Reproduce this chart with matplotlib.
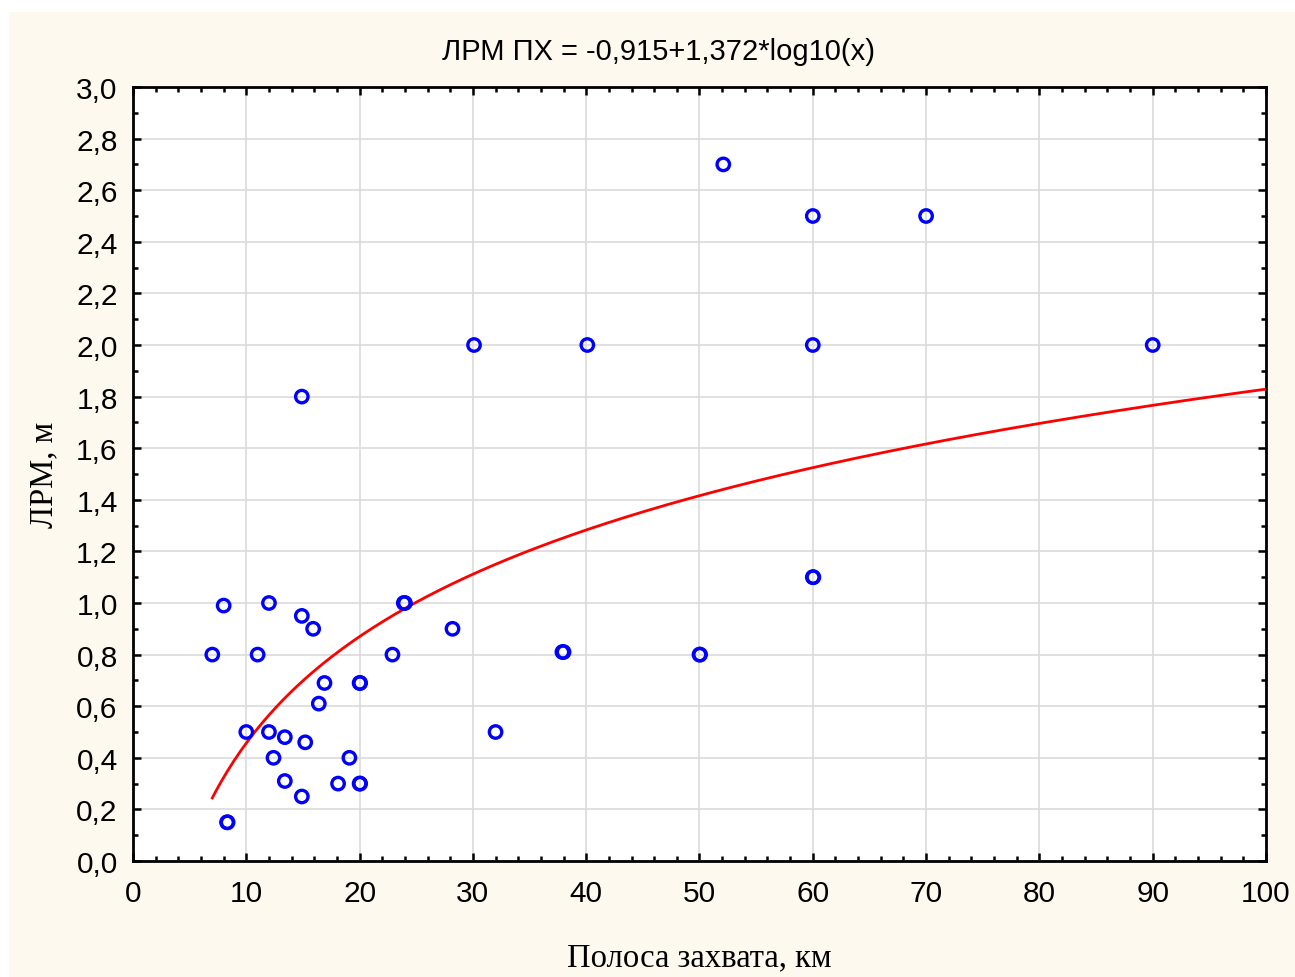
import numpy as np
import matplotlib
matplotlib.use("Agg")
import matplotlib.pyplot as plt
from matplotlib.patches import Rectangle
from matplotlib.ticker import MultipleLocator, FuncFormatter

# swath width, km
swath_km = [7, 8, 8.3, 8.35, 10, 11, 12, 12, 12.4, 13.4, 13.4, 14.9, 14.9, 15.2, 14.9,
            15.9, 16.4, 16.9, 18.1, 19.1, 20, 20.05, 20, 20.05, 22.9, 23.9, 24.0, 28.2,
            30.1, 32, 37.9, 38.0, 40.1, 50, 50.05, 52.1, 60, 60, 60, 60.05, 70, 90]
# LRM PH, m
lrm_m = [0.80, 0.99, 0.15, 0.15, 0.50, 0.80, 1.00, 0.50, 0.40, 0.48, 0.31, 0.95, 1.80, 0.46, 0.25,
         0.90, 0.61, 0.69, 0.30, 0.40, 0.69, 0.69, 0.30, 0.30, 0.80, 1.00, 1.00, 0.90,
         2.00, 0.50, 0.81, 0.81, 2.00, 0.80, 0.80, 2.70, 2.50, 2.00, 1.10, 1.10, 2.50, 2.00]

coef_a = -0.915
coef_b = 1.372
title = "ЛРМ ПХ = -0,915+1,372*log10(x)"

fig = plt.figure(figsize=(12.95, 9.78), dpi=100, facecolor="white")
fig.patches.append(Rectangle((9 / 1295, 0), 1, 1 - 13 / 978, transform=fig.transFigure,
                             facecolor="#FDF9EE", edgecolor="none", zorder=-10))
ax = fig.add_axes([133 / 1295, 1 - 862 / 978, (1266 - 133) / 1295, (862 - 88) / 978])
ax.set_facecolor("white")

# fitted curve
xs = np.linspace(min(swath_km), 100, 300)
ax.plot(xs, coef_a + coef_b * np.log10(xs), color="#FF0000", lw=2.0, zorder=3)

ax.scatter(swath_km, lrm_m, s=80, facecolors="none", edgecolors="#0000FF", linewidths=2.4, zorder=4)

ax.set_xlim(0, 100)
ax.set_ylim(0, 3.0)
ax.xaxis.set_major_locator(MultipleLocator(10))
ax.xaxis.set_minor_locator(MultipleLocator(2))
ax.yaxis.set_major_locator(MultipleLocator(0.2))
ax.yaxis.set_minor_locator(MultipleLocator(0.1))
ax.yaxis.set_major_formatter(FuncFormatter(lambda v, p: f"{v:.1f}".replace(".", ",")))
ax.grid(True, which="major", color="#DADADA", lw=1.2, zorder=0)
ax.set_axisbelow(True)

for s in ax.spines.values():
    s.set_linewidth(2.0)
    s.set_color("black")
ax.tick_params(which="both", direction="in", top=True, right=True, width=1.8, color="black")
ax.tick_params(which="major", length=6, labelsize=21.5, pad=11)
ax.tick_params(axis="x", which="major", pad=13)
ax.tick_params(which="minor", length=3.5)
for lbl in ax.get_xticklabels() + ax.get_yticklabels():
    lbl.set_family(["Liberation Sans", "DejaVu Sans"])

fig.text(658 / 1295, 1 - 52 / 978, title, ha="center", va="center", fontsize=21,
         family=["Liberation Sans", "DejaVu Sans"])
ax.set_xlabel("Полоса захвата, км", fontsize=23.5, family=["Liberation Serif", "DejaVu Serif"], labelpad=25)
ax.set_ylabel("ЛРМ, м", fontsize=23.5, family=["Liberation Serif", "DejaVu Serif"], labelpad=12)

fig.savefig("out.png", dpi=100, facecolor=fig.get_facecolor())
